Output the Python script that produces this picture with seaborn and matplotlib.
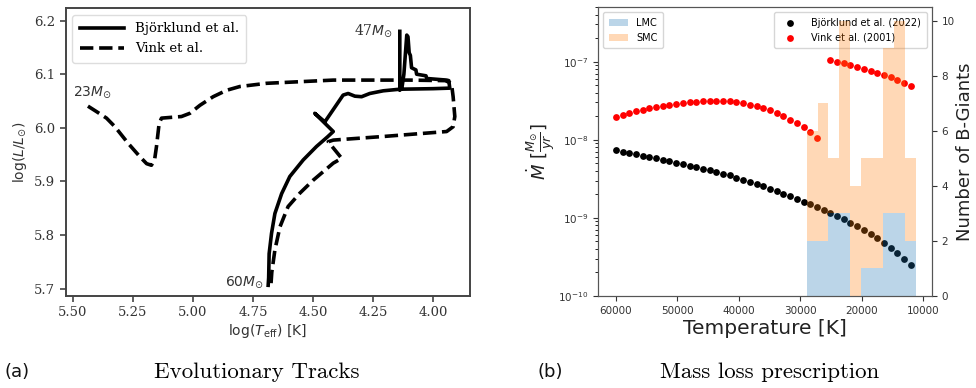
import numpy as np
import pandas as pd
import matplotlib
matplotlib.use("Agg")
import matplotlib.pyplot as plt
from matplotlib.patches import Patch
import seaborn as sns

# %%
# Panel (a): evolutionary tracks, log Teff vs log L
bjorklund_logT = [4.687, 4.685, 4.683, 4.673, 4.659, 4.631, 4.597, 4.541, 4.486, 4.440, 4.416,
                  4.493, 4.451, 4.375, 4.354, 4.326, 4.298, 4.264, 4.208, 4.139, 4.000, 3.931,
                  3.935, 3.944, 4.027, 4.030, 4.069, 4.072, 4.090, 4.095, 4.100, 4.105, 4.110,
                  4.122, 4.130, 4.139, 4.139]
bjorklund_logL = [5.706, 5.720, 5.765, 5.803, 5.840, 5.877, 5.909, 5.940, 5.965, 5.983, 5.993,
                  6.027, 6.011, 6.061, 6.064, 6.059, 6.058, 6.064, 6.069, 6.072, 6.073, 6.074,
                  6.088, 6.089, 6.092, 6.097, 6.100, 6.108, 6.112, 6.135, 6.140, 6.170, 6.173,
                  6.100, 6.075, 6.070, 6.180]

vink_logT = [4.675, 4.672, 4.659, 4.638, 4.604, 4.555, 4.500, 4.416, 4.381, 4.437, 4.416,
             4.200, 3.944, 3.917, 3.910, 3.917, 3.924, 3.950, 4.100, 4.300, 4.416, 4.555,
             4.694, 4.805, 4.860, 4.916, 4.971, 5.013, 5.048, 5.131, 5.141, 5.152, 5.159,
             5.173, 5.193, 5.221, 5.270, 5.325, 5.360, 5.401, 5.450]
vink_logL = [5.710, 5.730, 5.772, 5.815, 5.853, 5.878, 5.902, 5.934, 5.943, 5.974, 5.977,
             5.984, 5.993, 6.002, 6.021, 6.058, 6.083, 6.088, 6.089, 6.089, 6.089, 6.086,
             6.083, 6.077, 6.070, 6.058, 6.042, 6.027, 6.021, 6.018, 6.008, 5.965, 5.943,
             5.930, 5.933, 5.946, 5.971, 6.002, 6.018, 6.030, 6.044]

# %%
# Panel (b): mass-loss rate [Msun/yr] vs temperature [K]
temperature = [60000, 58909, 57818, 56727, 55636, 54545, 53455, 52364, 51273, 50182,
               49091, 48000, 46909, 45818, 44727, 43636, 42545, 41455, 40364, 39273,
               38182, 37091, 36000, 34909, 33818, 32727, 31636, 30545, 29455, 28364,
               27273, 26182, 25091, 24000, 22909, 21818, 20727, 19636, 18545, 17455,
               16364, 15273, 14182, 13091, 12000]
mdot_bjorklund = [7.33e-9, 7.05e-9, 6.79e-9, 6.53e-9, 6.28e-9, 6.03e-9, 5.79e-9, 5.56e-9, 5.32e-9, 5.09e-9,
                  4.88e-9, 4.67e-9, 4.47e-9, 4.27e-9, 4.08e-9, 3.88e-9, 3.69e-9, 3.50e-9, 3.26e-9, 3.09e-9,
                  2.92e-9, 2.72e-9, 2.53e-9, 2.33e-9, 2.19e-9, 2.04e-9, 1.90e-9, 1.76e-9, 1.62e-9, 1.50e-9,
                  1.38e-9, 1.26e-9, 1.16e-9, 1.05e-9, 9.55e-10, 8.65e-10, 7.82e-10, 7.05e-10, 6.25e-10, 5.52e-10,
                  4.81e-10, 4.14e-10, 3.53e-10, 2.99e-10, 2.48e-10]
mdot_vink = [1.95e-8, 2.07e-8, 2.19e-8, 2.31e-8, 2.42e-8, 2.53e-8, 2.63e-8, 2.72e-8, 2.81e-8, 2.88e-8,
             2.95e-8, 3.01e-8, 3.07e-8, 3.11e-8, 3.14e-8, 3.15e-8, 3.13e-8, 3.09e-8, 3.02e-8, 2.93e-8,
             2.82e-8, 2.69e-8, 2.52e-8, 2.38e-8, 2.19e-8, 2.00e-8, 1.80e-8, 1.62e-8, 1.46e-8, 1.24e-8,
             1.06e-8, np.nan, 1.05e-7, 1.00e-7, 9.53e-8, 8.99e-8, 8.51e-8, 8.09e-8, 7.67e-8, 7.19e-8,
             6.73e-8, 6.27e-8, 5.82e-8, 5.37e-8, 4.90e-8]

# number of B giants per temperature bin (low T -> high T)
bin_edges = [11150, 12930, 14710, 16490, 18270, 20050, 21830, 23610, 25390, 27170, 28950]
lmc_counts = [2, 3, 3, 1, 1, 0, 3, 3, 2, 2]
smc_counts = [3, 7, 6, 4, 4, 4, 7, 2, 5, 4]

# %%
plt.rcParams["mathtext.fontset"] = "dejavusans"
fig = plt.figure(figsize=(9.76, 3.88), dpi=100)

# ---- (a) ----
axa = fig.add_axes([0.0673, 0.2371, 0.4142, 0.7415])
sns.lineplot(x=bjorklund_logT, y=bjorklund_logL, sort=False, estimator=None,
             color="black", lw=2.6, label="Björklund et al.", ax=axa)
sns.lineplot(x=vink_logT, y=vink_logL, sort=False, estimator=None,
             color="black", lw=2.6, ls="--", label="Vink et al.", ax=axa)
axa.set_xlim(5.53, 3.847)
axa.set_ylim(5.686, 6.223)
axa.set_xticks([5.50, 5.25, 5.00, 4.75, 4.50, 4.25, 4.00])
axa.set_xticklabels(["5.50", "5.25", "5.00", "4.75", "4.50", "4.25", "4.00"])
axa.set_yticks([5.7, 5.8, 5.9, 6.0, 6.1, 6.2])
for lab in axa.get_xticklabels() + axa.get_yticklabels():
    lab.set_family("DejaVu Serif")
    lab.set_fontsize(9.5)
    lab.set_color("#333333")
axa.tick_params(length=4, width=1.2, color="#444444")
for sp in axa.spines.values():
    sp.set_color("#444444")
    sp.set_linewidth(1.4)
axa.set_xlabel(r"log($T_{\rm eff}$) [K]", fontsize=10, color="#333333", labelpad=2)
axa.set_ylabel(r"log($L/L_{\odot}$)", fontsize=10, color="#333333", labelpad=4)
axa.legend(loc="upper left", prop={"family": "DejaVu Serif", "size": 9.5},
           handlelength=3.4, borderpad=0.55, labelspacing=0.55, framealpha=1,
           edgecolor="#dddddd")
axa.text(4.167, 6.182, r"47$M_{\odot}$", ha="right", va="center", fontsize=10,
         family="DejaVu Serif", color="#333333")
axa.text(5.50, 6.067, r"23$M_{\odot}$", ha="left", va="center", fontsize=10, color="#333333")
axa.text(4.705, 5.712, r"60$M_{\odot}$", ha="right", va="center", fontsize=10, color="#333333")

# ---- (b) ----
axb = fig.add_axes([0.6127, 0.2371, 0.3422, 0.7448])
sns.scatterplot(x=temperature, y=mdot_bjorklund, color="black", s=24, linewidth=0,
                label="Björklund et al. (2022)", ax=axb)
sns.scatterplot(x=temperature, y=mdot_vink, color="red", s=24, linewidth=0,
                label="Vink et al. (2001)", ax=axb)
axb.set_yscale("log")
axb.set_ylim(1e-10, 5e-7)
axb.legend(loc="upper right", fontsize=7, handletextpad=1.2, borderpad=0.6)

axh = axb.twinx()
centers = [(bin_edges[i] + bin_edges[i + 1]) / 2 for i in range(len(lmc_counts))]
hist_df = pd.DataFrame({
    "T": centers * 2,
    "count": lmc_counts + smc_counts,
    "galaxy": ["LMC"] * len(lmc_counts) + ["SMC"] * len(smc_counts),
})
sns.histplot(data=hist_df, x="T", weights="count", hue="galaxy", hue_order=["SMC", "LMC"],
             multiple="stack", bins=bin_edges, palette={"LMC": "tab:blue", "SMC": "tab:orange"},
             alpha=0.3, linewidth=0, legend=False, ax=axh)
axh.set_ylim(0, 10.5)
axh.set_yticks([0, 2, 4, 6, 8, 10])
axh.legend(handles=[Patch(facecolor="tab:blue", alpha=0.3, label="LMC"),
                    Patch(facecolor="tab:orange", alpha=0.3, label="SMC")],
           loc="upper left", fontsize=7, borderpad=0.6)
axb.set_xlim(62900, 8550)
axb.set_xticks([60000, 50000, 40000, 30000, 20000, 10000])

for a in (axb, axh):
    a.tick_params(labelsize=7.5, colors="#333333", width=0.8)
    for sp in a.spines.values():
        sp.set_color("#555555")
axb.set_xlabel("Temperature [K]", fontsize=14.5, color="#222222", labelpad=2)
axb.set_ylabel(r"$\dot{M}$ [$\frac{M_{\odot}}{yr}$]", fontsize=13, color="#222222", labelpad=1)
axh.set_ylabel("Number of B-Giants", fontsize=13, color="#222222", labelpad=1)

# captions
fig.text(0.005, 0.04, "(a)", fontsize=13, color="#111111", va="center")
fig.text(0.263, 0.04, "Evolutionary Tracks", fontsize=16.5, family="cmr10", ha="center", va="center")
fig.text(0.551, 0.04, "(b)", fontsize=13, color="#111111", va="center")
fig.text(0.789, 0.04, "Mass loss prescription", fontsize=16.5, family="cmr10", ha="center", va="center")

fig.savefig("out.png", dpi=100)
